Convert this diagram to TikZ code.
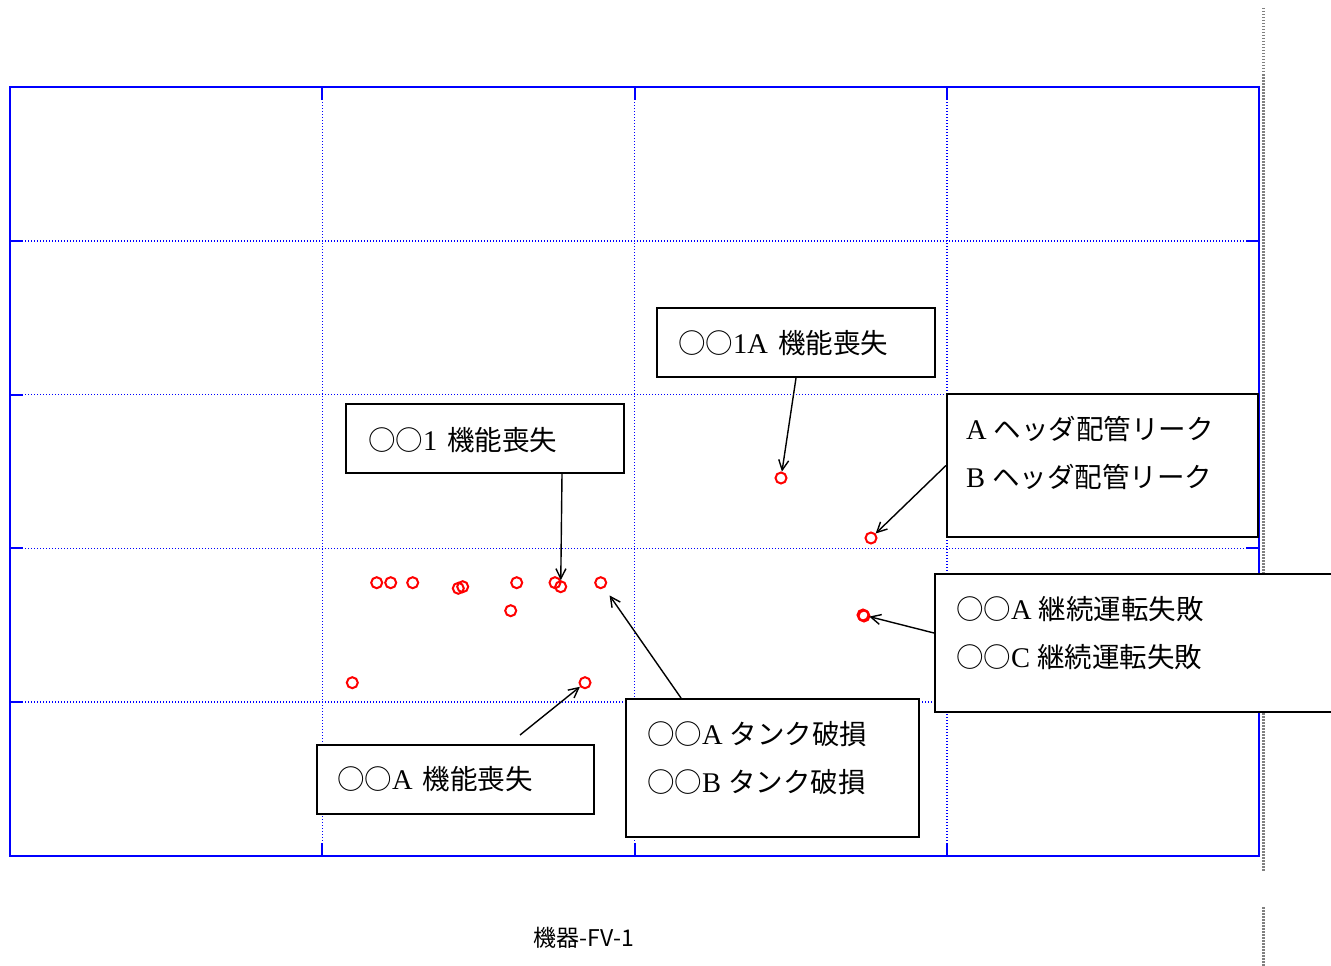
\documentclass[tikz,border=0pt]{standalone}
\usepackage{fontspec}
\setmainfont{Liberation Serif}
\newfontfamily\jpfont{Noto Sans CJK JP}
\usetikzlibrary{arrows.meta}
\newcommand{\jt}[1]{{\jpfont\fontsize{27.5}{48}\selectfont #1}}

\begin{document}
\begin{tikzpicture}[
    x=1pt, y=-1pt,
    fault/.style={circle,draw=red,line width=2pt,minimum size=11pt,inner sep=0pt},
    callout/.style={rectangle,draw=black,fill=white,line width=2pt,anchor=north west,inner sep=0pt},
    lbl/.style={anchor=north west,inner sep=0pt,align=left,font=\fontsize{28.5}{48}\selectfont},
    arr/.style={-{Straight Barb[length=10pt,width=10pt]},line width=1.4pt,black},
    gridln/.style={blue,line width=1.6pt,dash pattern=on 1.2pt off 1.8pt}
]
\useasboundingbox (0,0) rectangle (1331,966);
% grid
\foreach \x in {322.3,634.5,946.8} {
    \draw[gridln] (\x,87) -- (\x,856);
    \draw[blue,line width=2pt] (\x,87) -- (\x,100) (\x,843) -- (\x,856);
}
\foreach \y in {240.8,394.6,548.4,702.2} {
    \draw[gridln] (10,\y) -- (1259,\y);
    \draw[blue,line width=2pt] (10,\y) -- (23,\y) (1246,\y) -- (1259,\y);
}
\draw[blue,line width=2.4pt] (10,87) rectangle (1259,856);
% page edge
\draw[gray,line width=2.4pt,dash pattern=on 1.5pt off 1.5pt] (1263.5,8) -- (1263.5,872) (1263.5,907) -- (1263.5,966);

% callouts
\node[callout,minimum width=278pt,minimum height=69pt] (b1) at (656,307) {};
\node[callout,minimum width=278pt,minimum height=69pt] (b2) at (345,403) {};
\node[callout,minimum width=311pt,minimum height=143pt] (b3) at (946,393) {};
\node[callout,minimum width=406pt,minimum height=138pt] (b4) at (934,573) {};
\node[callout,minimum width=293pt,minimum height=138pt] (b5) at (625,698) {};
\node[callout,minimum width=277pt,minimum height=69pt] (b6) at (316,744) {};

\node[lbl] (t1) at (678,330) {\jt{○○}1A\hspace{10pt}\jt{機能喪失}};
\node[lbl] (t2) at (368,427) {\jt{○○}1\hspace{10pt}\jt{機能喪失}};
\node[lbl] (t3) at (966,416) {A \jt{ヘッダ配管リーク}\\B \jt{ヘッダ配管リーク}};
\node[lbl] (t4) at (956,596) {\jt{○○}A \jt{継続運転失敗}\\\jt{○○}C \jt{継続運転失敗}};
\node[lbl] (t5) at (647,721) {\jt{○○}A \jt{タンク破損}\\\jt{○○}B \jt{タンク破損}};
\node[lbl] (t6) at (337,766) {\jt{○○}A\hspace{10pt}\jt{機能喪失}};

% fault points
\node[fault] (p1) at (781,478) {};
\node[fault] (p2) at (871,538) {};
\node[fault] (p3) at (863,615) {};
\node[fault] (p3b) at (864,616) {};
\node[fault] (p4) at (376.7,582.7) {};
\node[fault] (p5) at (390.7,582.7) {};
\node[fault] (p6) at (412.7,582.7) {};
\node[fault] (p7) at (458.3,588.3) {};
\node[fault] (p8) at (462.7,586.7) {};
\node[fault] (p9) at (516.7,582.7) {};
\node[fault] (p10) at (555,582.7) {};
\node[fault] (p11) at (560.7,586.7) {};
\node[fault] (p12) at (600.7,582.7) {};
\node[fault] (p13) at (510.7,610.7) {};
\node[fault] (p14) at (352.3,682.7) {};
\node[fault] (p15) at (585,682.7) {};

% arrows
\draw[arr] (b1.south) -- (p1);
\draw[arr] ([xshift=77pt]b2.south) -- (p11);
\draw[arr] (b3.west) -- (p2);
\draw[arr] ([yshift=10pt]b4.west) -- (p3);
\draw[arr,shorten >=9pt] ([xshift=-91.5pt]b5.north) -- (p12);
\draw[arr] ([shift={(64.5pt,9pt)}]b6.north) -- (p15);

\node[font=\jpfont\fontsize{23}{23}\selectfont] (cap) at (584,938) {機器-FV-1};
\end{tikzpicture}
\end{document}
